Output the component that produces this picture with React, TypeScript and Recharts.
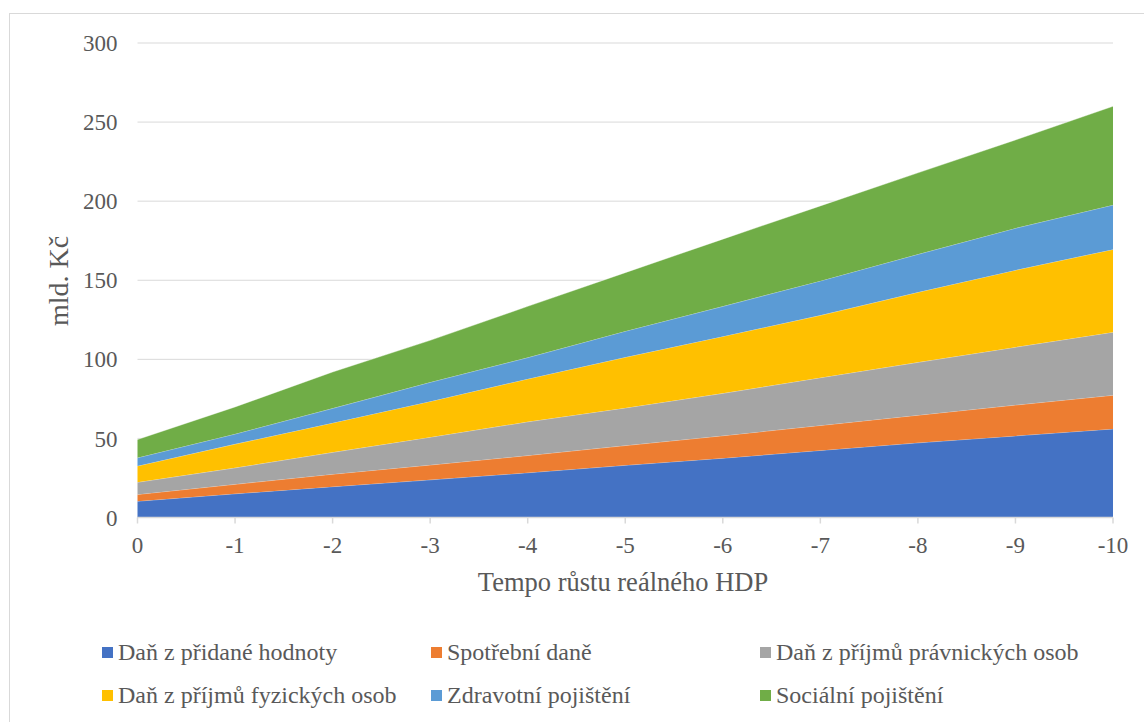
import React from 'react';
import { AreaChart, Area, XAxis, YAxis, CartesianGrid } from 'recharts';

const categories = ['0', '-1', '-2', '-3', '-4', '-5', '-6', '-7', '-8', '-9', '-10'];
const dph = [10.3, 15.0, 19.5, 23.8, 28.3, 33.0, 37.5, 42.4, 47.2, 51.6, 56.0];
const spotrebni = [4.3, 6.0, 7.9, 9.4, 10.9, 12.5, 14.2, 15.8, 17.5, 19.5, 21.3];
const dppo = [7.7, 10.4, 13.8, 17.6, 21.3, 23.8, 26.8, 30.2, 33.4, 36.6, 39.9];
const dpfo = [10.3, 15.0, 18.6, 22.6, 27.1, 32.0, 36.0, 39.4, 44.3, 48.7, 52.3];
const zdravotni = [5.2, 6.4, 9.2, 12.1, 13.5, 16.5, 19.0, 21.8, 24.0, 26.5, 28.1];
const socialni = [11.5, 17.1, 23.0, 26.5, 32.4, 37.0, 42.5, 47.4, 51.5, 55.8, 62.4];
const yTicks = [0, 50, 100, 150, 200, 250, 300];

const series = [
  { key: 'dph', name: 'Daň z přidané hodnoty', color: '#4472C4', values: dph },
  { key: 'spotrebni', name: 'Spotřební daně', color: '#ED7D31', values: spotrebni },
  { key: 'dppo', name: 'Daň z příjmů právnických osob', color: '#A5A5A5', values: dppo },
  { key: 'dpfo', name: 'Daň z příjmů fyzických osob', color: '#FFC000', values: dpfo },
  { key: 'zdravotni', name: 'Zdravotní pojištění', color: '#5B9BD5', values: zdravotni },
  { key: 'socialni', name: 'Sociální pojištění', color: '#70AD47', values: socialni },
];

const data = categories.map((c, i) => {
  const row: Record<string, string | number> = { x: c };
  series.forEach((s) => {
    row[s.key] = s.values[i];
  });
  return row;
});

const FONT = '"Liberation Serif", "Times New Roman", serif';
const TEXT = '#595959';

const legendCols = [102, 431, 760];
const legendRows = [652, 695];

export default function App() {
  return (
    <div
      style={{
        position: 'absolute',
        left: 0,
        top: 0,
        width: 1144,
        height: 722,
        overflow: 'hidden',
        background: '#fff',
        fontFamily: FONT,
      }}
    >
      <div
        style={{
          position: 'absolute',
          left: 9,
          top: 13,
          width: 1200,
          height: 800,
          borderLeft: '1.5px solid #d9d9d9',
          borderTop: '1.5px solid #d9d9d9',
        }}
      />
      <div style={{ position: 'absolute', left: 0, top: 0 }}>
        <AreaChart
          width={1144}
          height={722}
          data={data}
          margin={{ top: 43, right: 31, bottom: 174.5, left: 60 }}
        >
          <CartesianGrid vertical={false} stroke="#d9d9d9" strokeWidth={1} />
          <XAxis
            dataKey="x"
            height={30}
            axisLine={{ stroke: '#d9d9d9', strokeWidth: 1.5 }}
            tickLine={{ stroke: '#d9d9d9', strokeWidth: 1.5 }}
            tickSize={6}
            tickMargin={13}
            interval={0}
            tick={{ fill: TEXT, fontSize: 23, fontFamily: FONT }}
            label={{
              content: () => (
                <text
                  x={623}
                  y={591}
                  textAnchor="middle"
                  fill={TEXT}
                  fontSize={26.5}
                  fontFamily={FONT}
                >
                  Tempo růstu reálného HDP
                </text>
              ),
            }}
          />
          <YAxis
            width={77.5}
            domain={[0, 300]}
            ticks={yTicks}
            axisLine={false}
            tickLine={false}
            tickSize={10}
            tickMargin={10}
            tick={{ fill: TEXT, fontSize: 23, fontFamily: FONT }}
            label={{
              content: () => (
                <text
                  x={68}
                  y={281}
                  textAnchor="middle"
                  fill={TEXT}
                  fontSize={28}
                  fontFamily={FONT}
                  transform="rotate(-90, 68, 281)"
                >
                  mld. Kč
                </text>
              ),
            }}
          />
          {series.map((s) => (
            <Area
              key={s.key}
              type="linear"
              dataKey={s.key}
              name={s.name}
              stackId="1"
              fill={s.color}
              fillOpacity={1}
              stroke="#ffffff"
              strokeOpacity={0.5}
              strokeWidth={0.75}
              isAnimationActive={false}
              dot={false}
              activeDot={false}
            />
          ))}
        </AreaChart>
      </div>
      {series.map((s, i) => {
        const col = i % 3;
        const row = Math.floor(i / 3);
        return (
          <div
            key={s.key}
            style={{
              position: 'absolute',
              left: legendCols[col],
              top: legendRows[row] - 15,
              height: 30,
              display: 'flex',
              alignItems: 'center',
              whiteSpace: 'nowrap',
              color: TEXT,
              fontSize: 24,
              fontFamily: FONT,
            }}
          >
            <span
              style={{
                display: 'inline-block',
                width: 11,
                height: 11,
                background: s.color,
                marginRight: 5,
              }}
            />
            <span>{s.name}</span>
          </div>
        );
      })}
    </div>
  );
}
